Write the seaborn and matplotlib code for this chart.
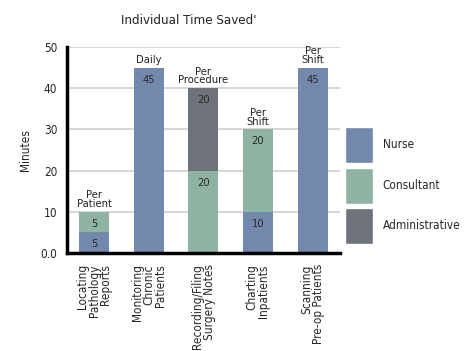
import matplotlib
matplotlib.use("Agg")
import matplotlib.pyplot as plt
import seaborn as sns
import pandas as pd
from matplotlib.patches import Patch

# ========== Data ==========
tasks = ["Locating\nPathology\nReports", "Monitoring\nChronic\nPatients",
         "Recording/Filing\nSurgery Notes", "Charting\nInpatients",
         "Scanning\nPre-op Patients"]
frequency = ["Per\nPatient", "Daily", "Per\nProcedure", "Per\nShift", "Per\nShift"]
nurse = [5, 45, 0, 10, 45]
consultant = [5, 0, 20, 20, 0]
administrative = [0, 0, 20, 0, 0]
y_ticks = [0, 10, 20, 30, 40, 50]
y_tick_labels = ["0.0", "10", "20", "30", "40", "50"]

colors = {"Nurse": "#7388ad", "Consultant": "#8fb3a2", "Administrative": "#6e737b"}

df = pd.DataFrame({"task": tasks, "freq": frequency, "Nurse": nurse,
                   "Consultant": consultant, "Administrative": administrative})
df["nc"] = df["Nurse"] + df["Consultant"]
df["total"] = df["nc"] + df["Administrative"]

sns.set_style("white")
plt.rcParams["font.family"] = ["DejaVu Sans"]
plt.rcParams["font.stretch"] = "condensed"

fig = plt.figure(figsize=(4.72, 3.51), dpi=100)
ax = fig.add_axes([0.142, 0.279, 0.578, 0.587])

# stacked bars drawn as overlapping cumulative totals
bw = 0.55
for col, key in [("total", "Administrative"), ("nc", "Consultant"), ("Nurse", "Nurse")]:
    sns.barplot(data=df, x="task", y=col, color=colors[key], width=bw,
                saturation=1, linewidth=0, ax=ax, zorder=3)

# value labels inside segments
for i, row in df.iterrows():
    bottom = 0
    for col in ["Nurse", "Consultant", "Administrative"]:
        v = row[col]
        if v > 0:
            top = bottom + v
            ax.annotate(str(v), (i, top), xytext=(0, -5), textcoords="offset points",
                        ha="center", va="top", fontsize=8, color="#2a2a2a", zorder=5)
            bottom = top
    ax.annotate(row["freq"], (i, row["total"]), xytext=(0, 2), textcoords="offset points",
                ha="center", va="bottom", fontsize=8, color="#222222",
                linespacing=0.85, annotation_clip=False)

ax.set_ylim(0, 50)
ax.set_xlim(-0.5, 4.5)
ax.set_yticks(y_ticks)
ax.set_yticklabels(y_tick_labels, fontsize=8.5)
ax.yaxis.grid(True, color="#cfcfcf", lw=1.2, zorder=0)
ax.set_axisbelow(True)
ax.tick_params(axis="y", length=0, pad=7)
ax.tick_params(axis="x", length=0, pad=8)
ax.set_xticklabels(tasks, rotation=90, fontsize=8.5, ha="center", va="top",
                   multialignment="right", linespacing=0.85)
ax.set_xlabel("")
ax.set_ylabel("Minutes", fontsize=8.5, labelpad=6)

for s in ["top", "right"]:
    ax.spines[s].set_visible(False)
for s in ["left", "bottom"]:
    ax.spines[s].set_color("black")
    ax.spines[s].set_linewidth(2.5)
    ax.spines[s].set_zorder(4)

fig.text(0.40, 0.943, "Individual Time Saved'", ha="center", va="center",
         fontsize=9.5, color="#222222")

handles = [Patch(facecolor=colors[k], label=k) for k in ["Nurse", "Consultant", "Administrative"]]
fig.legend(handles=handles, loc="upper left", bbox_to_anchor=(0.731, 0.638),
           frameon=False, fontsize=8.5, handlelength=2.4, handleheight=4.3,
           labelspacing=0.4, handletextpad=0.8, borderpad=0, borderaxespad=0)

plt.savefig("out.png", dpi=100)
plt.close()
